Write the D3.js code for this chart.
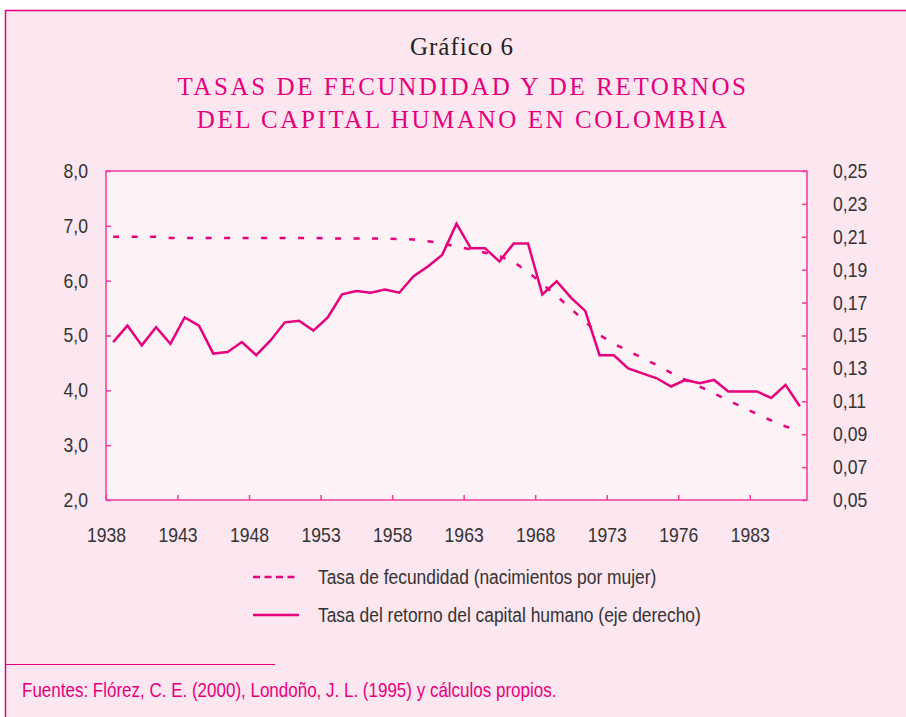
<!DOCTYPE html>
<html>
<head>
<meta charset="utf-8">
<script src="https://cdn.jsdelivr.net/npm/d3@7"></script>
<style>
  html, body { margin: 0; padding: 0; background: #fff; }
  svg { display: block; }
</style>
</head>
<body>
<div id="chart"></div>
<script>
// x categories: 49 periods, labelled every 5th one
const tickLabels = ["1938", "1943", "1948", "1953", "1958", "1963", "1968", "1973", "1976", "1983"];

// fertility rate (births per woman), left axis
const fecundidad = [
  6.80, 6.80, 6.80, 6.80, 6.78, 6.78, 6.78, 6.78, 6.78, 6.78,
  6.78, 6.78, 6.78, 6.78, 6.78, 6.77, 6.77, 6.77, 6.77, 6.77,
  6.76, 6.75, 6.72, 6.68, 6.62, 6.57, 6.51, 6.45, 6.34, 6.16,
  5.94, 5.72, 5.49, 5.25, 5.01, 4.85, 4.72, 4.59, 4.46, 4.32,
  4.19, 4.07, 3.94, 3.82, 3.69, 3.57, 3.45, 3.34, 3.27
];

// return on human capital, right axis
const retorno = [
  0.146, 0.156, 0.144, 0.155, 0.145, 0.161, 0.156, 0.139, 0.140, 0.146,
  0.138, 0.147, 0.158, 0.159, 0.153, 0.161, 0.175, 0.177, 0.176, 0.178,
  0.176, 0.186, 0.192, 0.199, 0.218, 0.203, 0.203, 0.195, 0.206, 0.206,
  0.175, 0.183, 0.173, 0.165, 0.138, 0.138, 0.130, 0.127, 0.124, 0.119,
  0.123, 0.121, 0.123, 0.116, 0.116, 0.116, 0.112, 0.120, 0.107
];

const leftTicks = [2, 3, 4, 5, 6, 7, 8];
const rightTicks = [0.05, 0.07, 0.09, 0.11, 0.13, 0.15, 0.17, 0.19, 0.21, 0.23, 0.25];

const W = 906, H = 717;
const pink = "#e6007e";
const axisPink = "#ee3d9c";
const ink = "#333333";
const sans = "'Liberation Sans', Arial, sans-serif";
const serif = "'Liberation Serif', 'DejaVu Serif', serif";

const plot = { left: 106, right: 807, top: 171, bottom: 500 };

const comma = d3.formatLocale({ decimal: ",", thousands: ".", grouping: [3], currency: ["", ""] });
const f1 = comma.format(".1f");
const f2 = comma.format(".2f");

// no condensed font installed: squeeze the text horizontally instead
function condense(sel, k) {
  sel.each(function () {
    const t = d3.select(this);
    const tx = +t.attr("x") || 0, ty = +t.attr("y") || 0;
    t.attr("x", 0).attr("y", 0)
      .attr("transform", `translate(${tx},${ty}) scale(${k},1)`);
  });
}

const svg = d3.select("#chart").append("svg")
  .attr("width", W).attr("height", H);

// page background + frame
svg.append("rect").attr("x", 5).attr("y", 10).attr("width", W).attr("height", H)
  .attr("fill", "#fce6ef");
svg.append("path")
  .attr("d", `M5.5,${H} V10.5 H${W}`)
  .attr("fill", "none").attr("stroke", pink).attr("stroke-width", 1.5);

// titles
svg.append("text").attr("x", 462).attr("y", 55)
  .attr("text-anchor", "middle")
  .style("font-family", serif).style("font-size", "25px").style("letter-spacing", "1px")
  .attr("fill", "#222").text("Gráfico 6");

const titleLines = ["TASAS DE FECUNDIDAD Y DE RETORNOS", "DEL CAPITAL HUMANO EN COLOMBIA"];
svg.selectAll(".title").data(titleLines).enter().append("text")
  .attr("class", "title")
  .attr("x", 463).attr("y", (d, i) => 95 + i * 33)
  .attr("text-anchor", "middle")
  .style("font-family", serif).style("font-size", "25px").style("letter-spacing", "2.6px")
  .attr("fill", pink).text(d => d);

// scales
const x = d3.scaleLinear().domain([0, retorno.length]).range([plot.left, plot.right]);
const yL = d3.scaleLinear().domain([2, 8]).range([plot.bottom, plot.top]);
const yR = d3.scaleLinear().domain([0.05, 0.25]).range([plot.bottom, plot.top]);

// plot area
svg.append("rect")
  .attr("x", plot.left).attr("y", plot.top)
  .attr("width", plot.right - plot.left).attr("height", plot.bottom - plot.top)
  .attr("fill", "#fdf2f6").attr("stroke", axisPink).attr("stroke-width", 1.5);

// axes
const styleAxis = (g) => {
  g.select(".domain").remove();
  g.selectAll(".tick line").attr("stroke", axisPink).attr("stroke-width", 1.5);
  g.selectAll(".tick text").attr("fill", ink)
    .style("font-family", sans).style("font-size", "20px")
    .call(condense, 0.88);
};

svg.append("g")
  .attr("transform", `translate(${plot.left},0)`)
  .call(d3.axisLeft(yL).tickValues(leftTicks).tickFormat(f1).tickSize(-5).tickPadding(18))
  .call(styleAxis);

svg.append("g")
  .attr("transform", `translate(${plot.right},0)`)
  .call(d3.axisRight(yR).tickValues(rightTicks).tickFormat(f2).tickSize(-5).tickPadding(26))
  .call(styleAxis);

svg.append("g")
  .attr("transform", `translate(0,${plot.bottom})`)
  .call(d3.axisBottom(x).tickValues(tickLabels.map((d, i) => i * 5))
    .tickFormat((d, i) => tickLabels[i]).tickSize(-5).tickPadding(28))
  .call(styleAxis);

// series
const lineL = d3.line().x((d, i) => x(i + 0.5)).y(d => yL(d));
const lineR = d3.line().x((d, i) => x(i + 0.5)).y(d => yR(d));

svg.append("path").datum(fecundidad)
  .attr("d", lineL).attr("fill", "none")
  .attr("stroke", pink).attr("stroke-width", 2.5)
  .attr("stroke-dasharray", "6,12.5");

svg.append("path").datum(retorno)
  .attr("d", lineR).attr("fill", "none")
  .attr("stroke", pink).attr("stroke-width", 2.5)
  .attr("stroke-linejoin", "miter");

// legend
const legend = [
  { label: "Tasa de fecundidad (nacimientos por mujer)", dash: "7,4.5" },
  { label: "Tasa del retorno del capital humano (eje derecho)", dash: null }
];
const lg = svg.selectAll(".legend").data(legend).enter().append("g")
  .attr("class", "legend")
  .attr("transform", (d, i) => `translate(253,${577 + i * 38})`);
lg.append("line").attr("x1", 0).attr("x2", 46).attr("y1", 0).attr("y2", 0)
  .attr("stroke", pink).attr("stroke-width", 2.5)
  .attr("stroke-dasharray", d => d.dash);
lg.append("text").attr("x", 65).attr("y", 0).attr("dy", "0.35em")
  .attr("fill", ink).style("font-family", sans).style("font-size", "20px")
  .text(d => d.label)
  .call(condense, 0.87);

// source
svg.append("line").attr("x1", 5).attr("x2", 275).attr("y1", 664.5).attr("y2", 664.5)
  .attr("stroke", pink).attr("stroke-width", 1.2);
svg.append("text").attr("x", 22).attr("y", 690).attr("dy", "0.35em")
  .attr("fill", pink).style("font-family", sans).style("font-size", "20px")
  .text("Fuentes: Flórez, C. E. (2000), Londoño, J. L. (1995) y cálculos propios.")
  .call(condense, 0.85);
</script>
</body>
</html>
